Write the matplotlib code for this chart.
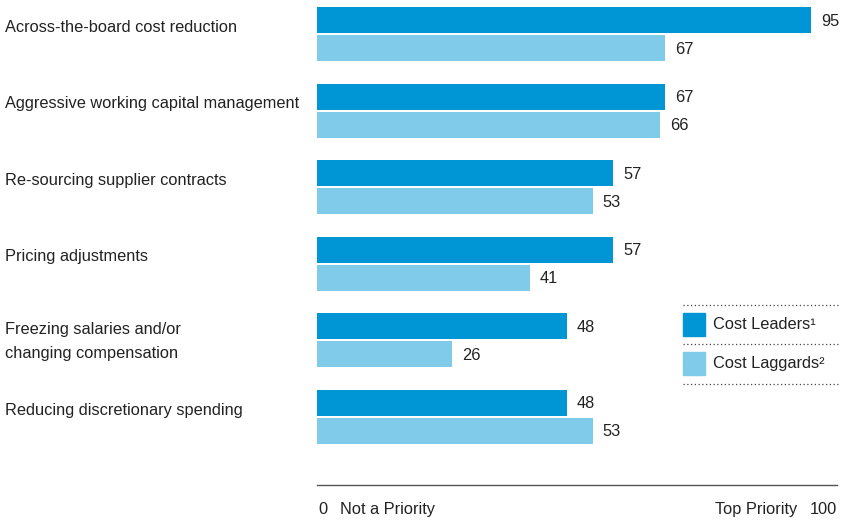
import matplotlib
matplotlib.use('Agg')
import matplotlib.pyplot as plt
from matplotlib.patches import Rectangle
from matplotlib.lines import Line2D

plt.rcParams['font.family'] = ['Liberation Sans', 'DejaVu Sans']

categories = [
    'Across-the-board cost reduction',
    'Aggressive working capital management',
    'Re-sourcing supplier contracts',
    'Pricing adjustments',
    'Freezing salaries and/or\nchanging compensation',
    'Reducing discretionary spending',
]
cost_leaders = [95, 67, 57, 57, 48, 48]
cost_laggards = [67, 66, 53, 41, 26, 53]
series_names = ['Cost Leaders\u00b9', 'Cost Laggards\u00b2']

dark = '#0096d6'
light = '#80cbea'
txt = '#222222'
fs = 11.8

W, H = 841, 520
fig = plt.figure(figsize=(W / 100, H / 100), dpi=100)
# axes spans the value range 0..100; y runs in pixel-like units, top down
ax_left, ax_right, ax_bottom = 317, 837, 485
ax = fig.add_axes([ax_left / W, 1 - ax_bottom / H, (ax_right - ax_left) / W, ax_bottom / H])
ax.set_xlim(0, 100)
ax.set_ylim(ax_bottom, 0)

step = 76.6
bh = 26
for i, (cat, a, b) in enumerate(zip(categories, cost_leaders, cost_laggards)):
    y1 = 20 + step * i
    y2 = y1 + bh + 2
    ax.barh(y1, a, height=bh, color=dark, left=0)
    ax.barh(y2, b, height=bh, color=light, left=0)
    ax.text(a + 1.9, y1 + 1, str(a), va='center', ha='left', fontsize=fs, color=txt)
    ax.text(b + 1.9, y2 + 1, str(b), va='center', ha='left', fontsize=fs, color=txt)
    if '\n' in cat:
        ty = (y1 + y2) / 2 + 1
    else:
        ty = y1 + 7
    fig.text(5 / W, 1 - ty / H, cat, ha='left', va='center', fontsize=fs,
             color=txt, linespacing=1.75)

for s in ['top', 'right', 'left']:
    ax.spines[s].set_visible(False)
ax.spines['bottom'].set_color('#555555')
ax.spines['bottom'].set_linewidth(1.0)
ax.set_xticks([])
ax.set_yticks([])

# end labels under the axis line
ly = 1 - 509.5 / H
fig.text(318 / W, ly, '0', ha='left', va='center', fontsize=fs, color=txt)
fig.text(340 / W, ly, 'Not a Priority', ha='left', va='center', fontsize=fs, color=txt)
fig.text(797 / W, ly, 'Top Priority', ha='right', va='center', fontsize=fs, color=txt)
fig.text(837 / W, ly, '100', ha='right', va='center', fontsize=fs, color=txt)

# legend with dotted separators
for yy in [305, 344, 384]:
    fig.add_artist(Line2D([683 / W, 841 / W], [1 - yy / H, 1 - yy / H],
                          linestyle=(0, (1, 2)), color='#444444', linewidth=0.9))
for name, col, yc in zip(series_names, [dark, light], [324.5, 363.5]):
    fig.add_artist(Rectangle((683 / W, 1 - (yc + 11.5) / H), 22 / W, 23 / H,
                             color=col, transform=fig.transFigure))
    fig.text(713 / W, 1 - yc / H, name, ha='left', va='center', fontsize=fs, color=txt)

fig.savefig('out.png', dpi=100)
